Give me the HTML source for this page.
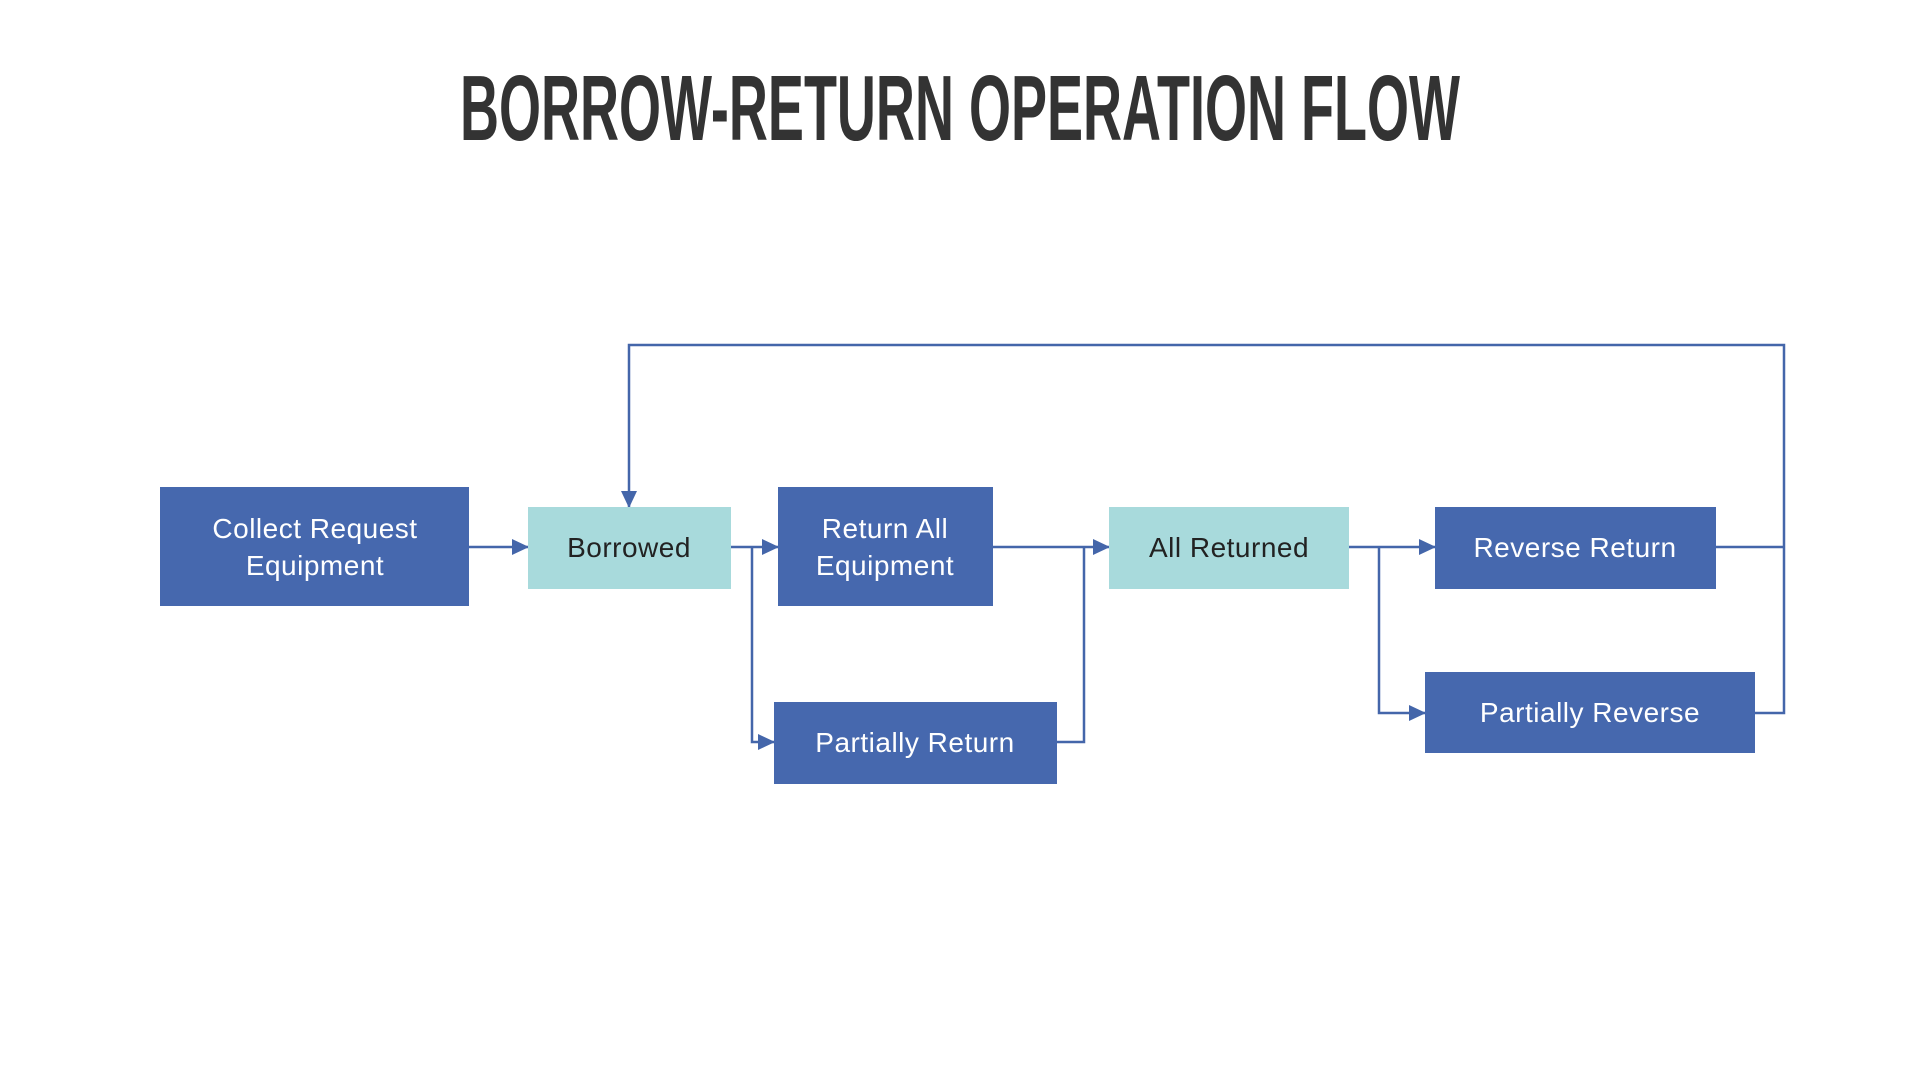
<!DOCTYPE html>
<html><head><meta charset="utf-8"><style>
html,body{margin:0;padding:0;background:#fff;width:1920px;height:1080px;overflow:hidden}
svg{display:block}
</style></head><body>
<svg width="1920" height="1080" viewBox="0 0 1920 1080" xmlns="http://www.w3.org/2000/svg">
<defs>
<marker id="a" markerWidth="18" markerHeight="18" refX="16" refY="8" orient="auto" markerUnits="userSpaceOnUse"><path d="M0,0 L17,8 L0,16 z" fill="#4466AA"/></marker>
</defs>
<text x="960" y="140" text-anchor="middle" font-family="Liberation Sans, sans-serif" font-weight="bold" font-size="93" fill="#333" textLength="1000" lengthAdjust="spacingAndGlyphs">BORROW-RETURN OPERATION FLOW</text>
<g stroke="#4466AA" stroke-width="2.5" fill="none">
<line x1="469" y1="547" x2="528" y2="547" marker-end="url(#a)"/>
<polyline points="731,547 778,547" marker-end="url(#a)"/>
<polyline points="752,547 752,742 774,742" marker-end="url(#a)"/>
<polyline points="993,547 1109,547" marker-end="url(#a)"/>
<polyline points="1057,742 1084,742 1084,547"/>
<polyline points="1349,547 1435,547" marker-end="url(#a)"/>
<polyline points="1379,547 1379,713 1425,713" marker-end="url(#a)"/>
<polyline points="1716,547 1784,547"/>
<polyline points="1755,713 1784,713 1784,345 629,345 629,507" marker-end="url(#a)"/>
</g>
<g font-family="Liberation Sans, sans-serif" font-size="28" text-anchor="middle" letter-spacing="0.5">
<rect x="160" y="487" width="309" height="119" fill="#4668AE"/>
<text x="315" y="538" fill="#fff">Collect Request</text><text x="315" y="575" fill="#fff">Equipment</text>
<rect x="528" y="507" width="203" height="82" fill="#A8DADC"/>
<text x="629" y="557" fill="#222">Borrowed</text>
<rect x="778" y="487" width="215" height="119" fill="#4668AE"/>
<text x="885" y="538" fill="#fff">Return All</text><text x="885" y="575" fill="#fff">Equipment</text>
<rect x="774" y="702" width="283" height="82" fill="#4668AE"/>
<text x="915" y="752" fill="#fff">Partially Return</text>
<rect x="1109" y="507" width="240" height="82" fill="#A8DADC"/>
<text x="1229" y="557" fill="#222">All Returned</text>
<rect x="1435" y="507" width="281" height="82" fill="#4668AE"/>
<text x="1575" y="557" fill="#fff">Reverse Return</text>
<rect x="1425" y="672" width="330" height="81" fill="#4668AE"/>
<text x="1590" y="722" fill="#fff">Partially Reverse</text>
</g>
</svg>
</body></html>
